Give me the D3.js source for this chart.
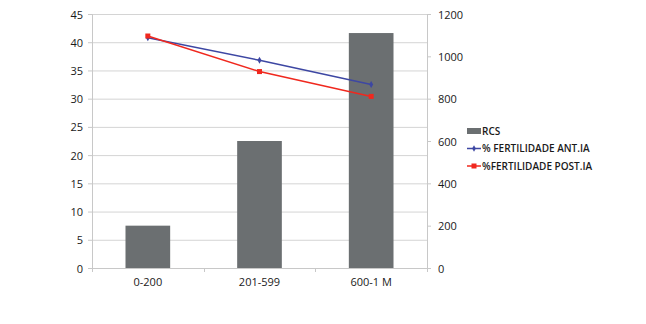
<!DOCTYPE html>
<html>
<head>
<meta charset="utf-8">
<script src="https://cdn.jsdelivr.net/npm/d3@7"></script>
<style>
  html, body { margin: 0; padding: 0; background: #fff; overflow: hidden; }
  svg { display: block; }
  text { font-family: "Open Sans", Lato, sans-serif; fill: #1a1a1a; }
</style>
</head>
<body>
<div class="chart-area"></div>
<script>
const categories = ["0-200", "201-599", "600-1 M"];
const rcs = [200, 600, 1110];
const fertAnt = [40.8, 36.8, 32.5];
const fertPost = [41.1, 34.8, 30.4];
const leftTicks = [0, 5, 10, 15, 20, 25, 30, 35, 40, 45];
const rightTicks = [0, 200, 400, 600, 800, 1000, 1200];

const width = 646, height = 324;
const margin = { top: 14, right: 219, bottom: 56, left: 92 };
const innerWidth = width - margin.left - margin.right,
  innerHeight = height - margin.top - margin.bottom;

const svg = d3
  .select(".chart-area")
  .append("svg")
  .attr("width", width)
  .attr("height", height);

const g = svg.append("g")
  .attr("transform", "translate(" + margin.left + "," + margin.top + ")");

const x = d3.scaleBand()
  .domain(categories)
  .range([0, innerWidth])
  .paddingInner(0.6)
  .paddingOuter(0.3);

const yLeft = d3.scaleLinear().domain([0, 45]).range([innerHeight, 0]);
const yRight = d3.scaleLinear().domain([0, 1200]).range([innerHeight, 0]);

// gridlines
g.append("g")
  .selectAll("line")
  .data(leftTicks)
  .enter()
  .append("line")
  .attr("x1", 0)
  .attr("x2", innerWidth)
  .attr("y1", (d) => yLeft(d) + 0.5)
  .attr("y2", (d) => yLeft(d) + 0.5)
  .attr("stroke", "#d4d4d4")
  .attr("stroke-width", 1);

// axes
const leftAxis = g.append("g")
  .call(d3.axisLeft(yLeft).tickValues(leftTicks).tickSize(4).tickPadding(5));
const rightAxis = g.append("g")
  .attr("transform", `translate(${innerWidth},0)`)
  .call(d3.axisRight(yRight).tickValues(rightTicks).tickFormat(d3.format("d")).tickSize(4).tickPadding(7));
const step = x.step();
const bottomAxis = g.append("g")
  .attr("transform", `translate(0,${innerHeight})`)
  .call(d3.axisBottom(x).tickSize(0).tickPadding(9));

[leftAxis, rightAxis, bottomAxis].forEach((a) => {
  a.attr("font-family", null).attr("font-size", null);
  a.select(".domain").attr("stroke", "#c8c8c8");
  a.selectAll(".tick line").attr("stroke", "#c8c8c8");
  a.selectAll("text")
    .attr("font-size", 11)
    .attr("fill", "#1a1a1a");
});
leftAxis.selectAll("text").attr("dy", null).attr("y", 4);
rightAxis.selectAll("text").attr("dy", null).attr("y", 4);
bottomAxis.selectAll("text").attr("dy", null).attr("y", 18);

// category boundary ticks on the x axis
g.append("g")
  .selectAll("line")
  .data(d3.range(categories.length + 1))
  .enter()
  .append("line")
  .attr("x1", (i) => Math.round(i * step) + 0.5)
  .attr("x2", (i) => Math.round(i * step) + 0.5)
  .attr("y1", innerHeight)
  .attr("y2", innerHeight + 4)
  .attr("stroke", "#c8c8c8");

// bars (RCS, secondary axis)
g.append("g")
  .selectAll("rect")
  .data(rcs)
  .enter()
  .append("rect")
  .attr("x", (d, i) => x(categories[i]))
  .attr("y", (d) => yRight(d))
  .attr("width", x.bandwidth())
  .attr("height", (d) => innerHeight - yRight(d))
  .attr("fill", "#6b6f71");

const cx = (i) => x(categories[i]) + x.bandwidth() / 2;
const line = d3.line()
  .x((d, i) => cx(i))
  .y((d) => yLeft(d));

// blue line
g.append("path")
  .datum(fertAnt)
  .attr("d", line)
  .attr("fill", "none")
  .attr("stroke", "#3d47a3")
  .attr("stroke-width", 1.5);
g.append("g")
  .selectAll("path")
  .data(fertAnt)
  .enter()
  .append("path")
  .attr("d", d3.symbol(d3.symbolDiamond, 14))
  .attr("transform", (d, i) => `translate(${cx(i)},${yLeft(d)})`)
  .attr("fill", "#3d47a3");

// red line
g.append("path")
  .datum(fertPost)
  .attr("d", line)
  .attr("fill", "none")
  .attr("stroke", "#f0281e")
  .attr("stroke-width", 1.5);
g.append("g")
  .selectAll("rect")
  .data(fertPost)
  .enter()
  .append("rect")
  .attr("x", (d, i) => cx(i) - 2.5)
  .attr("y", (d) => yLeft(d) - 2.5)
  .attr("width", 5)
  .attr("height", 5)
  .attr("fill", "#f0281e");

// legend
const legend = svg.append("g").attr("transform", "translate(467,131)");
const items = [
  { name: "RCS", type: "bar", color: "#6b6f71" },
  { name: "% FERTILIDADE ANT.IA", type: "line", color: "#3d47a3" },
  { name: "%FERTILIDADE POST.IA", type: "line", color: "#f0281e" }
];
const item = legend.selectAll("g")
  .data(items)
  .enter()
  .append("g")
  .attr("transform", (d, i) => `translate(0,${i * 17.5})`);

item.filter((d) => d.type === "bar")
  .append("rect")
  .attr("x", 0)
  .attr("y", -3)
  .attr("width", 14)
  .attr("height", 6)
  .attr("fill", (d) => d.color);
item.filter((d) => d.type === "line")
  .append("line")
  .attr("x1", 0)
  .attr("x2", 14)
  .attr("stroke", (d) => d.color)
  .attr("stroke-width", 1.5);
item.filter((d, i) => i === 1)
  .append("path")
  .attr("d", d3.symbol(d3.symbolDiamond, 12))
  .attr("transform", "translate(7,0)")
  .attr("fill", (d) => d.color);
item.filter((d, i) => i === 2)
  .append("rect")
  .attr("x", 4.5).attr("y", -2.5).attr("width", 5).attr("height", 5)
  .attr("fill", (d) => d.color);

item.append("text")
  .attr("x", 15)
  .attr("y", 3.5)
  .attr("font-size", 10)
  .attr("font-weight", "600")
  .attr("fill", "#222")
  .text((d) => d.name);
</script>
</body>
</html>
